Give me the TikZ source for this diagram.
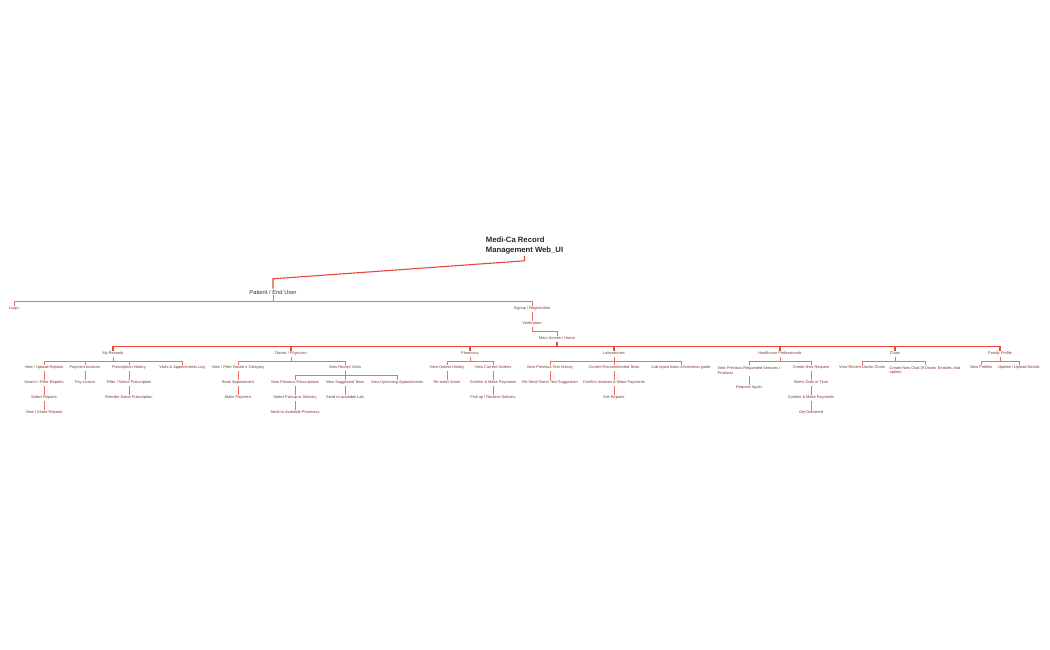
\documentclass[tikz,border=0pt]{standalone}
\usepackage{fontspec}
\setmainfont{Liberation Sans}
\usepackage{tikz}
\definecolor{linered}{RGB}{236,70,56}
\definecolor{linesalmon}{RGB}{242,110,96}
\definecolor{textbrown}{RGB}{118,56,54}
\tikzstyle{root}=[font=\fontsize{7.7}{10}\selectfont\bfseries,text=black!85,
align=left,inner sep=1pt]
\tikzstyle{user}=[font=\fontsize{5.8}{7}\selectfont,text=black!80,inner sep=1pt]
\tikzstyle{itembase}=[font=\fontsize{3.9}{4.8}\selectfont,text=textbrown,inner sep=1pt]
\tikzstyle{item}=[itembase,text height=2.8pt,text depth=0.9pt]
\tikzstyle{item2}=[itembase,align=left]
\tikzstyle{mainlink}=[draw=linered,line width=1.1pt]
\tikzstyle{link}=[draw=linesalmon,line width=0.8pt]
\usetikzlibrary{positioning}

\begin{document}
\begin{tikzpicture}[x=1pt,y=-1pt,node distance=15pt]
            \useasboundingbox (0,0) rectangle (1050,650);

            % ROOT PART

            \node[root] (root) at (524.5,246) {Medi-Ca Record\\Management Web\_UI};
            \node[user] (user) at (273,292) {Patient / End User};

            \draw[mainlink] (root.south) -- ++(0,5) -- ++(-251.5,18) -- (user.north);

            % ACCESS PART

            \node[item] (login) at (14,309) {Login};
            \node[item] (signup) at (532,309) {Signup / Registration};
            \node[item, below of=signup] (verif) {Verification};
            \node[item] (home) at (557,339) {Main Screen / Home};

            \draw[link] (user.south) -- ++(0,5.8) coordinate (ubus);
            \draw[link] (login.north) |- (ubus) -| (signup.north);
            \draw[link] (signup) -- (verif);
            \draw[link] (verif.south) -- ++(0,4.65) -| (home.north);

            % MAIN SCREEN PART

            \node[item] (records) at (113,354) {My Records};
            \node[item] (doctor) at (291,354) {Doctor / Physician};
            \node[item] (pharmacy) at (470,354) {Pharmacy};
            \node[item] (labs) at (614,354) {Laboratories};
            \node[item] (health) at (780,354) {Healthcare Professionals};
            \node[item] (chats) at (895,354) {Chats};
            \node[item] (family) at (1000,354) {Family Profile};

            \draw[mainlink] (home.south) -- ++(0,4.65) coordinate (hbus);
            \draw[mainlink] (records.north) |- (hbus) -| (family.north);
            \draw[mainlink] (doctor.north) -- (doctor.north |- hbus);
            \draw[mainlink] (pharmacy.north) -- (pharmacy.north |- hbus);
            \draw[mainlink] (labs.north) -- (labs.north |- hbus);
            \draw[mainlink] (health.north) -- (health.north |- hbus);
            \draw[mainlink] (chats.north) -- (chats.north |- hbus);

            % MY RECORDS PART

            \node[item] (r1) at (44,368) {View / Upload Reports};
            \node[item, below of=r1] (r11) {Search / Filter Reports};
            \node[item, below of=r11] (r12) {Select Reports};
            \node[item, below of=r12] (r13) {View / Share Reports};
            \node[item] (r2) at (85,368) {Payment Invoices};
            \node[item, below of=r2] (r21) {Pay invoice};
            \node[item] (r3) at (129,368) {Prescription History};
            \node[item, below of=r3] (r31) {Filter / Select Prescription};
            \node[item, below of=r31] (r32) {Reorder Same Prescription};
            \node[item] (r4) at (182,368) {Visits \& Appointments Log};

            \draw[link] (records.south) -- ++(0,4.65) coordinate (rbus);
            \draw[link] (r1.north) |- (rbus) -| (r4.north);
            \draw[link] (r2.north) -- (r2.north |- rbus);
            \draw[link] (r3.north) -- (r3.north |- rbus);
            \draw[link] (r1) -- (r11);
            \draw[link] (r11) -- (r12);
            \draw[link] (r12) -- (r13);
            \draw[link] (r2) -- (r21);
            \draw[link] (r3) -- (r31);
            \draw[link] (r31) -- (r32);

            % DOCTOR PART

            \node[item] (d1) at (238,368) {View / Filter Doctor's Category};
            \node[item, below of=d1] (d11) {Book Appointment};
            \node[item, below of=d11] (d12) {Make Payment};
            \node[item] (d2) at (345,368) {View Recent Visits};
            \node[item] (d21) at (295,383) {View Previous Prescriptions};
            \node[item, below of=d21] (d211) {Select Pickup or Delivery};
            \node[item, below of=d211] (d212) {Send to Available Pharmacy};
            \node[item, below of=d2] (d22) {View Suggested Tests};
            \node[item, below of=d22] (d221) {Send to available Lab};
            \node[item] (d23) at (397,383) {View Upcoming Appointments};

            \draw[link] (doctor.south) -- ++(0,4.65) coordinate (dbus);
            \draw[link] (d1.north) |- (dbus) -| (d2.north);
            \draw[link] (d1) -- (d11);
            \draw[link] (d11) -- (d12);
            \draw[link] (d2.south) -- ++(0,4.65) coordinate (vbus);
            \draw[link] (d21.north) |- (vbus) -| (d23.north);
            \draw[link] (d22.north) -- (d22.north |- vbus);
            \draw[link] (d21) -- (d211);
            \draw[link] (d211) -- (d212);
            \draw[link] (d22) -- (d221);

            % PHARMACY PART

            \node[item] (p1) at (447,368) {View Orders History};
            \node[item, below of=p1] (p11) {Re-order Same};
            \node[item] (p2) at (493,368) {View Current Order/s};
            \node[item, below of=p2] (p21) {Confirm \& Make Payments};
            \node[item, below of=p21] (p22) {Pick up / Receive Delivery};

            \draw[link] (pharmacy.south) -- ++(0,4.65) coordinate (pbus);
            \draw[link] (p1.north) |- (pbus) -| (p2.north);
            \draw[link] (p1) -- (p11);
            \draw[link] (p2) -- (p21);
            \draw[link] (p21) -- (p22);

            % LABORATORIES PART

            \node[item] (l1) at (550,368) {View Previous Test History};
            \node[item, below of=l1] (l11) {Re-Send Same Test Suggestion};
            \node[item] (l2) at (614,368) {Current Recommended Tests};
            \node[item, below of=l2] (l21) {Confirm Invoices \& Make Payments};
            \node[item, below of=l21] (l22) {Get Reports};
            \node[item] (l3) at (681,368) {Lab report basic information guide};

            \draw[link] (labs.south) -- ++(0,4.65) coordinate (lbus);
            \draw[link] (l1.north) |- (lbus) -| (l3.north);
            \draw[link] (l2.north) -- (l2.north |- lbus);
            \draw[link] (l1) -- (l11);
            \draw[link] (l2) -- (l21);
            \draw[link] (l21) -- (l22);

            % HEALTHCARE PART

            \node[item2] (h1) at (749,370.5) {View Previous Requested Services /\\Products};
            \node[item] (h11) at (749,388) {Request Again};
            \node[item] (h2) at (811,368) {Create New Request};
            \node[item, below of=h2] (h21) {Select Date or Time};
            \node[item, below of=h21] (h22) {Confirm \& Make Payments};
            \node[item, below of=h22] (h23) {Get Delivered};

            \draw[link] (health.south) -- ++(0,4.65) coordinate (kbus);
            \draw[link] (h1.north) |- (kbus) -| (h2.north);
            \draw[link] (h1) -- (h11);
            \draw[link] (h2) -- (h21);
            \draw[link] (h21) -- (h22);
            \draw[link] (h22) -- (h23);

            % CHATS PART

            \node[item] (c1) at (862,368) {View Recent Doctor Chats};
            \node[item2] (c2) at (925,370.5) {Create New Chat (If Doctor Enables chat\\option)};

            \draw[link] (chats.south) -- ++(0,4.65) coordinate (cbus);
            \draw[link] (c1.north) |- (cbus) -| (c2.north);

            % FAMILY PART

            \node[item] (f1) at (981,368) {View Profiles};
            \node[item] (f2) at (1019,368) {Update / Upload Details};

            \draw[link] (family.south) -- ++(0,4.65) coordinate (fbus);
            \draw[link] (f1.north) |- (fbus) -| (f2.north);

        \end{tikzpicture}
\end{document}
